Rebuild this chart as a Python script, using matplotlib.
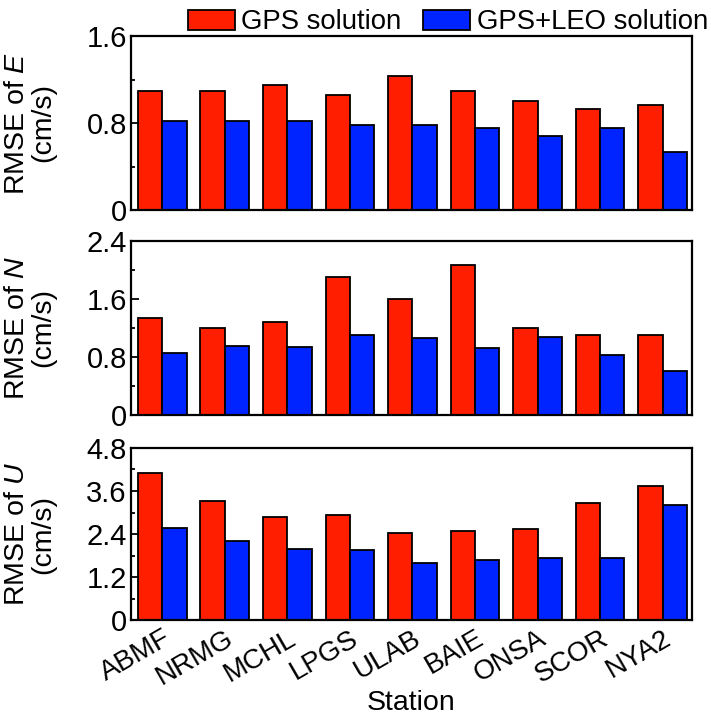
import matplotlib
matplotlib.use("Agg")
import matplotlib.pyplot as plt
import numpy as np
from matplotlib.ticker import MultipleLocator

stations = ["ABMF", "NRMG", "MCHL", "LPGS", "ULAB", "BAIE", "ONSA", "SCOR", "NYA2"]
gps_E = [1.09, 1.09, 1.15, 1.06, 1.23, 1.09, 1.00, 0.93, 0.97]
leo_E = [0.82, 0.82, 0.82, 0.78, 0.78, 0.75, 0.68, 0.75, 0.53]
gps_N = [1.34, 1.20, 1.28, 1.90, 1.60, 2.07, 1.20, 1.10, 1.10]
leo_N = [0.86, 0.95, 0.94, 1.11, 1.06, 0.92, 1.07, 0.83, 0.60]
gps_U = [4.10, 3.32, 2.87, 2.94, 2.43, 2.49, 2.53, 3.27, 3.74]
leo_U = [2.56, 2.20, 1.99, 1.94, 1.60, 1.67, 1.74, 1.72, 3.20]

labels = ["E", "N", "U"]
ymax = [1.6, 2.4, 4.8]
major = [0.8, 0.8, 1.2]
minor = [0.4, 0.4, 0.6]

plt.rcParams['font.family'] = ['Liberation Sans', 'DejaVu Sans']
plt.rcParams['mathtext.fontset'] = 'custom'
plt.rcParams['mathtext.rm'] = 'Liberation Sans'
plt.rcParams['mathtext.it'] = 'Liberation Sans:italic'

RED = '#FF1E00'
BLUE = '#0024FF'

fig = plt.figure(figsize=(7.11, 7.2), dpi=100)
rects = [
    [131/711, 1-210/720, 561/711, 174/720],
    [131/711, 1-415/720, 561/711, 174/720],
    [131/711, 1-620/720, 561/711, 172/720],
]
data = [(gps_E, leo_E), (gps_N, leo_N), (gps_U, leo_U)]
x = np.arange(len(stations))
w = 0.39
axes = []
for k, (r, (g, l)) in enumerate(zip(rects, data)):
    ax = fig.add_axes(r)
    b1 = ax.bar(x - w/2, g, width=w, color=RED, edgecolor='black', linewidth=1.3, label='GPS solution')
    b2 = ax.bar(x + w/2, l, width=w, color=BLUE, edgecolor='black', linewidth=1.3, label='GPS+LEO solution')
    ax.set_xlim(-0.5, 8.47)
    ax.set_ylim(0, ymax[k])
    ax.yaxis.set_major_locator(MultipleLocator(major[k]))
    ax.yaxis.set_minor_locator(MultipleLocator(minor[k]))
    ax.tick_params(axis='y', which='major', direction='in', length=6, width=1.3, labelsize=21, pad=3)
    ax.tick_params(axis='y', which='minor', direction='in', length=3, width=1.3)
    ax.tick_params(axis='x', which='both', length=0)
    ax.yaxis.set_major_formatter(matplotlib.ticker.FuncFormatter(lambda v, p: ('%g' % round(v, 2))))
    for s in ax.spines.values():
        s.set_linewidth(1.6)
    ax.set_ylabel('RMSE of $\\mathit{%s}$\n(cm/s)' % labels[k], fontsize=20.5, linespacing=1.0)
    ax.set_xticks(x)
    if k < 2:
        ax.set_xticklabels([])
    else:
        ax.set_xticklabels(stations, rotation=30, ha='right', rotation_mode='anchor', fontsize=20)
        ax.tick_params(axis='x', pad=4)
        ax.set_xlabel('Station', fontsize=20.5, labelpad=0)
    ax.yaxis.set_label_coords(-0.134, 0.5)
    axes.append(ax)
    if k == 0:
        handles = [b1, b2]

fig.legend(handles, ['GPS solution', 'GPS+LEO solution'], loc='upper right',
           bbox_to_anchor=(1.0155, 1.006), ncol=2, frameon=False, fontsize=19.8,
           handlelength=1.71, handleheight=0.75, handletextpad=0.25, columnspacing=0.78,
           borderaxespad=0.1)

fig.savefig('out.png', dpi=100)
